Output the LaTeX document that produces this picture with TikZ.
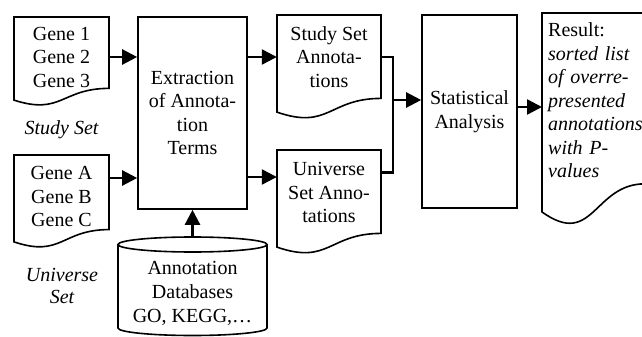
\documentclass[tikz,border=0pt]{standalone}
\usepackage{fontspec}
\setmainfont{Liberation Serif}
\usetikzlibrary{arrows.meta}
\newcommand\docpath[4]{% x0 y0 W H
  \draw[shapeline] (#1,#2) -- ({#1+#3},#2) -- ({#1+#3},{#2+0.802*#4})
   .. controls ({#1+0.5*#3},{#2+0.802*#4}) and ({#1+0.5*#3},{#2+1.107*#4}) .. (#1,{#2+0.934*#4}) -- cycle;}
\begin{document}
\begin{tikzpicture}[x=1pt,y=-1pt,
  shapeline/.style={draw, line width=1.6pt, line join=miter},
  txt/.style={font=\fontsize{20}{23.5}\selectfont, align=center, inner sep=0pt},
  itx/.style={txt, font=\fontsize{20}{22}\selectfont\itshape},
  conn/.style={line width=2.4pt, line join=miter},
  arr/.style={conn, -{Triangle[length=15pt,width=15pt]}},
  boxnode/.style={txt, draw, line width=1.6pt}
]
\useasboundingbox (0,0) rectangle (642,337);

% document outlines
\docpath{14}{17}{95}{89}
\docpath{14}{155}{95}{93}
\docpath{277}{15}{104}{104}
\docpath{277}{150}{104}{104}
\docpath{542}{13}{103}{213}

% database cylinder
\draw[shapeline] (118,244.5) -- (118,328) arc[start angle=180,end angle=360,x radius=74.5pt,y radius=7.5pt] -- (267,244.5);
\draw[shapeline] (192.5,244.5) ellipse [x radius=74.5pt, y radius=7.5pt];

% nodes
\node[txt, minimum width=95pt] (g1) at (61.5,57) {Gene 1\\Gene 2\\Gene 3};
\node[itx] (sslab) at (61.5,129.5) {Study Set};
\node[txt, minimum width=95pt] (u) at (61.5,196.5) {Gene A\\Gene B\\Gene C};
\node[itx] (uslab) at (62,286) {Universe\\Set};
\node[boxnode, minimum width=109pt, minimum height=192pt] (ext) at (192.5,113) {Extraction\\of Annota-\\tion\\Terms};
\node[txt, minimum width=149pt, minimum height=112pt, font=\fontsize{20}{24}\selectfont] (db) at (192.5,293) {Annotation\\Databases\\GO, KEGG,\dots};
\node[txt, minimum width=104pt] (ssa) at (329,57) {Study Set\\Annota-\\tions};
\node[txt, minimum width=104pt] (usa) at (329,192.5) {Universe\\Set Anno-\\tations};
\node[boxnode, minimum width=95pt, minimum height=193pt] (stat) at (469.5,111.5) {Statistical\\Analysis};
\node[txt, align=left, anchor=west, inner xsep=6pt, text width=91pt] (res) at (542,100.5)
  {Result:\\\textit{sorted list}\\\textit{of overre-}\\\textit{presented}\\\textit{annotations}\\\textit{with P-}\\\textit{values}};

% connectors
\path ([yshift=18.5pt]u.east) coordinate (uout);
\path ([yshift=15.5pt]usa.west) coordinate (uin);
\path ([yshift=20pt]usa.east) coordinate (usaout);
\coordinate (jn) at (393,100);

\draw[arr] (g1.east) -- (g1.east -| ext.west);
\draw[arr] (uout) -- (uout -| ext.west);
\draw[arr] (db.north) -- (ext.south);
\draw[arr] (ext.east |- ssa.west) -- (ssa.west);
\draw[arr] (uin -| ext.east) -- (uin);
\draw[conn] (ssa.east) -- (ssa.east -| jn) -- (jn |- usaout) -- (usaout);
\draw[arr] (jn) -- (jn -| stat.west);
\draw[arr] ([yshift=4.5pt]stat.east) -- ([yshift=-6.5pt]res.west);
\end{tikzpicture}
\end{document}
